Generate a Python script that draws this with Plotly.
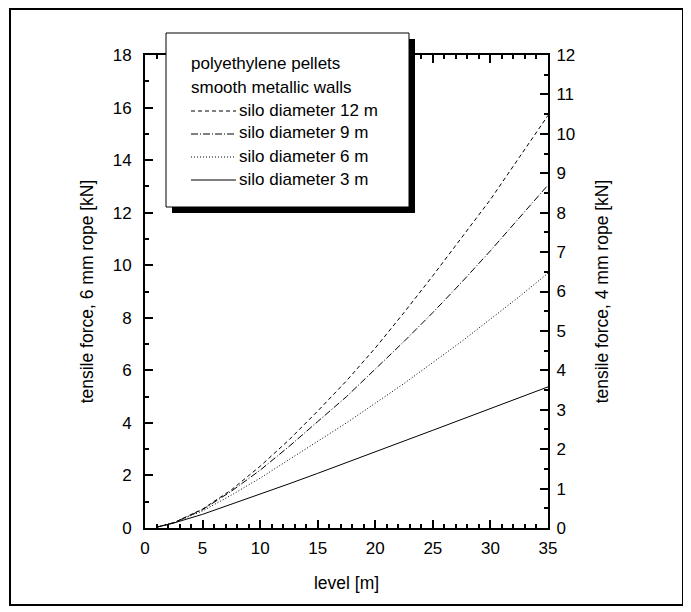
import plotly.graph_objects as go

level = [1, 2.5, 5, 7.5, 10, 12.5, 15, 17.5, 20, 22.5, 25, 27.5, 30, 32.5, 35]
d12 = [0.03, 0.2, 0.72, 1.45, 2.35, 3.35, 4.45, 5.6, 6.85, 8.2, 9.6, 11.05, 12.5, 14.1, 15.7]
d9 = [0.03, 0.2, 0.7, 1.4, 2.2, 3.1, 4.05, 5.0, 6.05, 7.1, 8.2, 9.35, 10.55, 11.8, 13.05]
d6 = [0.03, 0.2, 0.65, 1.25, 1.9, 2.6, 3.3, 4.0, 4.75, 5.5, 6.3, 7.1, 7.95, 8.8, 9.7]
d3 = [0.03, 0.19, 0.52, 0.9, 1.28, 1.68, 2.08, 2.48, 2.9, 3.31, 3.72, 4.13, 4.55, 4.96, 5.37]
names = ["silo diameter 12 m", "silo diameter 9 m", "silo diameter 6 m", "silo diameter 3 m"]
legend_title = ["polyethylene pellets", "smooth metallic walls"]

# page has an 8px body margin; design coordinates are page coords minus 8
OFF = 8
W, H = 691 - OFF, 612 - OFF
L, R, T, B = 145 - OFF, 548 - OFF, 55 - OFF, 528 - OFF
FONT = "Arial, Liberation Sans, sans-serif"

def px(xp):
    return (xp - OFF - L) / (R - L)

def py(yp):
    return (B - (yp - OFF)) / (B - T)

fig = go.Figure()
dashes = ["4px,3px", "7px,2px,1px,2px", "1px,2px", "solid"]
for ys, nm, dash in zip([d12, d9, d6, d3], names, dashes):
    fig.add_trace(go.Scatter(x=level, y=ys, mode="lines", name=nm, showlegend=False,
                             line=dict(color="black", width=1, dash=dash)))
# empty trace so the right-hand (4 mm rope) axis is drawn
fig.add_trace(go.Scatter(x=[], y=[], yaxis="y2", showlegend=False, hoverinfo="skip"))

axis_common = dict(showline=True, linecolor="black", linewidth=2, ticks="inside",
                   tickcolor="black", tickwidth=2, ticklen=8, showgrid=False, zeroline=False,
                   tickfont=dict(family=FONT, size=17, color="black"))
minor_common = dict(ticks="inside", ticklen=4, tickcolor="black", tickwidth=1.5)
TF = dict(family=FONT, size=17.5, color="black")

shapes = [
    dict(type="rect", xref="paper", yref="paper", x0=px(10), x1=px(683), y0=py(605), y1=py(9),
         line=dict(color="black", width=2), fillcolor="rgba(0,0,0,0)", layer="above"),
    dict(type="rect", xref="paper", yref="paper", x0=px(172), x1=px(415), y0=py(213), y1=py(39),
         line=dict(color="black", width=0), fillcolor="black", layer="above"),
    dict(type="rect", xref="paper", yref="paper", x0=px(166), x1=px(409), y0=py(207), y1=py(33),
         line=dict(color="black", width=1), fillcolor="white", layer="above"),
]
annotations = []
for i, t in enumerate(legend_title):
    annotations.append(dict(text=t, xref="paper", yref="paper", x=px(189), y=py(63.5 + 23.5 * i),
                            xanchor="left", yanchor="middle", showarrow=False,
                            font=dict(family=FONT, size=17, color="black")))
item_y = [110, 133, 156, 179]
for nm, dash, yy in zip(names, dashes, item_y):
    shapes.append(dict(type="line", xref="paper", yref="paper", x0=px(191), x1=px(236),
                       y0=py(yy + 1), y1=py(yy + 1), line=dict(color="black", width=1, dash=dash),
                       layer="above"))
    annotations.append(dict(text=nm, xref="paper", yref="paper", x=px(237), y=py(yy),
                            xanchor="left", yanchor="middle", showarrow=False,
                            font=dict(family=FONT, size=17, color="black")))

fig.update_layout(
    width=W, height=H, autosize=False,
    margin=dict(l=L, r=W - R, t=T, b=H - B, pad=0),
    paper_bgcolor="white", plot_bgcolor="white",
    font=dict(family=FONT, size=17, color="black"),
    xaxis=dict(range=[0, 35], dtick=5, tick0=0, mirror="ticks", ticklabelstandoff=4,
               minor=dict(dtick=1, **minor_common),
               title=dict(text="level [m]", font=TF, standoff=19),
               **axis_common),
    yaxis=dict(range=[0, 18], dtick=2, tick0=0, ticklabelstandoff=8,
               minor=dict(dtick=1, **minor_common),
               title=dict(text="tensile force, 6 mm rope [kN]", font=TF, standoff=15),
               **axis_common),
    yaxis2=dict(range=[0, 12], dtick=1, tick0=0, overlaying="y", side="right", ticklabelstandoff=3,
                minor=dict(dtick=0.5, **minor_common),
                title=dict(text="tensile force, 4 mm rope [kN]", font=TF, standoff=21),
                **axis_common),
    shapes=shapes,
    annotations=annotations,
)
fig.write_html("out.html")
